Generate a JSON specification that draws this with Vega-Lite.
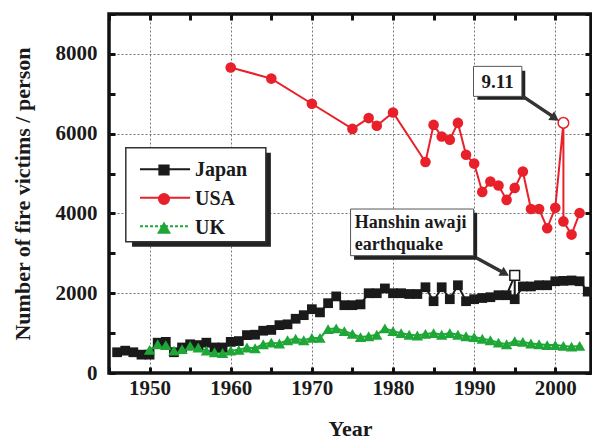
{
  "$schema": "https://vega.github.io/schema/vega-lite/v6.json",
  "width": 482,
  "height": 359,
  "autosize": {"type": "none"},
  "padding": {"left": 109, "top": 14, "right": 1, "bottom": 66},
  "background": "white",
  "config": {"view": {"stroke": "#111", "strokeWidth": 3.5}, "font": "Liberation Serif",
    "legend": {"orient": "none", "legendX": 18, "legendY": 134, "title": null, "padding": 12,
      "strokeColor": "transparent", "fillColor": "transparent",
      "labelFont": "Liberation Serif", "labelFontWeight": "bold", "labelFontSize": 20, "labelColor": "#1a1a1a",
      "symbolSize": 100, "symbolOffset": 15, "labelOffset": 21, "rowPadding": 9, "symbolOpacity": 1}},
  "data": {"values": [
    {"series":"Japan","year":1946,"victims":520},{"series":"Japan","year":1947,"victims":560},{"series":"Japan","year":1948,"victims":520},{"series":"Japan","year":1949,"victims":460},{"series":"Japan","year":1950,"victims":460},
    {"series":"Japan","year":1951,"victims":760},{"series":"Japan","year":1952,"victims":780},{"series":"Japan","year":1953,"victims":520},{"series":"Japan","year":1954,"victims":640},{"series":"Japan","year":1955,"victims":720},
    {"series":"Japan","year":1956,"victims":700},{"series":"Japan","year":1957,"victims":760},{"series":"Japan","year":1958,"victims":640},{"series":"Japan","year":1959,"victims":640},{"series":"Japan","year":1960,"victims":780},
    {"series":"Japan","year":1961,"victims":800},{"series":"Japan","year":1962,"victims":950},{"series":"Japan","year":1963,"victims":960},{"series":"Japan","year":1964,"victims":1060},{"series":"Japan","year":1965,"victims":1080},
    {"series":"Japan","year":1966,"victims":1200},{"series":"Japan","year":1967,"victims":1220},{"series":"Japan","year":1968,"victims":1360},{"series":"Japan","year":1969,"victims":1450},{"series":"Japan","year":1970,"victims":1600},
    {"series":"Japan","year":1971,"victims":1520},{"series":"Japan","year":1972,"victims":1750},{"series":"Japan","year":1973,"victims":1920},{"series":"Japan","year":1974,"victims":1700},{"series":"Japan","year":1975,"victims":1700},
    {"series":"Japan","year":1976,"victims":1720},{"series":"Japan","year":1977,"victims":2000},{"series":"Japan","year":1978,"victims":2000},{"series":"Japan","year":1979,"victims":2120},{"series":"Japan","year":1980,"victims":2000},
    {"series":"Japan","year":1981,"victims":2000},{"series":"Japan","year":1982,"victims":1980},{"series":"Japan","year":1983,"victims":1980},{"series":"Japan","year":1984,"victims":2150},{"series":"Japan","year":1985,"victims":1800},
    {"series":"Japan","year":1986,"victims":2150},{"series":"Japan","year":1987,"victims":1850},{"series":"Japan","year":1988,"victims":2200},{"series":"Japan","year":1989,"victims":1800},{"series":"Japan","year":1990,"victims":1850},
    {"series":"Japan","year":1991,"victims":1880},{"series":"Japan","year":1992,"victims":1900},{"series":"Japan","year":1993,"victims":1950},{"series":"Japan","year":1994,"victims":1950},
    {"series":"Japan","year":1995,"victims":2450,"note":"Hanshin awaji earthquake"},{"series":"Japan","year":1995,"victims":1850},
    {"series":"Japan","year":1996,"victims":2170},{"series":"Japan","year":1997,"victims":2170},{"series":"Japan","year":1998,"victims":2200},{"series":"Japan","year":1999,"victims":2200},{"series":"Japan","year":2000,"victims":2300},
    {"series":"Japan","year":2001,"victims":2310},{"series":"Japan","year":2002,"victims":2320},{"series":"Japan","year":2003,"victims":2300},{"series":"Japan","year":2004,"victims":2040},
    {"series":"USA","year":1960,"victims":7660},{"series":"USA","year":1965,"victims":7380},{"series":"USA","year":1970,"victims":6750},{"series":"USA","year":1975,"victims":6120},{"series":"USA","year":1977,"victims":6390},
    {"series":"USA","year":1978,"victims":6200},{"series":"USA","year":1980,"victims":6530},{"series":"USA","year":1984,"victims":5290},{"series":"USA","year":1985,"victims":6220},{"series":"USA","year":1986,"victims":5930},
    {"series":"USA","year":1987,"victims":5850},{"series":"USA","year":1988,"victims":6270},{"series":"USA","year":1989,"victims":5470},{"series":"USA","year":1990,"victims":5250},{"series":"USA","year":1991,"victims":4540},
    {"series":"USA","year":1992,"victims":4800},{"series":"USA","year":1993,"victims":4700},{"series":"USA","year":1994,"victims":4340},{"series":"USA","year":1995,"victims":4640},{"series":"USA","year":1996,"victims":5050},
    {"series":"USA","year":1997,"victims":4110},{"series":"USA","year":1998,"victims":4110},{"series":"USA","year":1999,"victims":3630},{"series":"USA","year":2000,"victims":4140},
    {"series":"USA","year":2001,"victims":6270,"note":"9.11"},{"series":"USA","year":2001,"victims":3800},{"series":"USA","year":2002,"victims":3470},{"series":"USA","year":2003,"victims":4010},
    {"series":"UK","year":1950,"victims":580},{"series":"UK","year":1951,"victims":720},{"series":"UK","year":1952,"victims":700},{"series":"UK","year":1953,"victims":560},{"series":"UK","year":1954,"victims":600},
    {"series":"UK","year":1955,"victims":680},{"series":"UK","year":1956,"victims":640},{"series":"UK","year":1957,"victims":560},{"series":"UK","year":1958,"victims":520},{"series":"UK","year":1959,"victims":500},
    {"series":"UK","year":1960,"victims":560},{"series":"UK","year":1961,"victims":580},{"series":"UK","year":1962,"victims":640},{"series":"UK","year":1963,"victims":620},{"series":"UK","year":1964,"victims":720},
    {"series":"UK","year":1965,"victims":760},{"series":"UK","year":1966,"victims":740},{"series":"UK","year":1967,"victims":820},{"series":"UK","year":1968,"victims":860},{"series":"UK","year":1969,"victims":820},
    {"series":"UK","year":1970,"victims":880},{"series":"UK","year":1971,"victims":880},{"series":"UK","year":1972,"victims":1100},{"series":"UK","year":1973,"victims":1120},{"series":"UK","year":1974,"victims":1050},
    {"series":"UK","year":1975,"victims":980},{"series":"UK","year":1976,"victims":900},{"series":"UK","year":1977,"victims":920},{"series":"UK","year":1978,"victims":960},{"series":"UK","year":1979,"victims":1120},
    {"series":"UK","year":1980,"victims":1050},{"series":"UK","year":1981,"victims":1000},{"series":"UK","year":1982,"victims":960},{"series":"UK","year":1983,"victims":940},{"series":"UK","year":1984,"victims":980},
    {"series":"UK","year":1985,"victims":1000},{"series":"UK","year":1986,"victims":960},{"series":"UK","year":1987,"victims":1000},{"series":"UK","year":1988,"victims":960},{"series":"UK","year":1989,"victims":920},
    {"series":"UK","year":1990,"victims":900},{"series":"UK","year":1991,"victims":860},{"series":"UK","year":1992,"victims":820},{"series":"UK","year":1993,"victims":760},{"series":"UK","year":1994,"victims":720},
    {"series":"UK","year":1995,"victims":800},{"series":"UK","year":1996,"victims":780},{"series":"UK","year":1997,"victims":740},{"series":"UK","year":1998,"victims":720},{"series":"UK","year":1999,"victims":700},
    {"series":"UK","year":2000,"victims":700},{"series":"UK","year":2001,"victims":680},{"series":"UK","year":2002,"victims":660},{"series":"UK","year":2003,"victims":680}
  ]},
  "resolve": {"axis": {"x": "independent", "y": "independent"}},
  "layer": [
    {
      "mark": {"type": "line", "strokeWidth": 2},
      "encoding": {
        "x": {"field": "year", "type": "quantitative",
          "scale": {"domain": [1945, 2004.4], "nice": false, "zero": false},
          "axis": {"orient": "bottom", "values": [1945,1950,1955,1960,1965,1970,1975,1980,1985,1990,1995,2000], "format": "d",
            "labelExpr": "datum.value % 10 === 0 ? datum.label : ''",
            "grid": true, "gridDash": [2,2], "gridColor": "#777", "gridWidth": 1,
            "gridOpacity": {"condition": {"test": "datum.value % 10 === 0", "value": 1}, "value": 0},
            "domain": false, "tickSize": -6, "tickWidth": 3, "tickColor": "#111",
            "labelFont": "Liberation Serif", "labelFontWeight": "bold", "labelFontSize": 21, "labelColor": "#1a1a1a", "labelPadding": 10,
            "title": "Year", "titleFont": "Liberation Serif", "titleFontWeight": "bold", "titleFontSize": 22, "titleColor": "#1a1a1a", "titlePadding": 20}},
        "y": {"field": "victims", "type": "quantitative",
          "scale": {"domain": [0, 9000], "nice": false},
          "axis": {"orient": "left", "values": [0,1000,2000,3000,4000,5000,6000,7000,8000,9000], "format": "d",
            "labelExpr": "datum.value % 2000 === 0 ? datum.label : ''",
            "grid": true, "gridDash": [2,2], "gridColor": "#777", "gridWidth": 1,
            "gridOpacity": {"condition": {"test": "datum.value % 2000 === 0 && datum.value > 0", "value": 1}, "value": 0},
            "domain": false, "tickSize": -6, "tickWidth": 3, "tickColor": "#111",
            "labelFont": "Liberation Serif", "labelFontWeight": "bold", "labelFontSize": 21, "labelColor": "#1a1a1a", "labelPadding": 18,
            "title": "Number of fire victims / person", "titleFont": "Liberation Serif", "titleFontWeight": "bold", "titleFontSize": 22, "titleColor": "#1a1a1a", "titlePadding": 21}},
        "color": {"field": "series", "type": "nominal",
          "scale": {"domain": ["Japan","USA","UK"], "range": ["#1a1a1a","#e8202a","#1ea637"]},
          "legend": {"zindex": 5}}
      }
    },
    {
      "data": {"values": [{"box": "legend shadow"}]},
      "mark": {"type": "rect", "fill": "#222"},
      "encoding": {
        "x": {"datum": 1947.84, "type": "quantitative", "axis": null},
        "x2": {"datum": 1964.95},
        "y": {"datum": 5523, "type": "quantitative", "axis": null},
        "y2": {"datum": 3166}
      }
    },
    {
      "data": {"values": [{"box": "legend"}]},
      "mark": {"type": "rect", "fill": "white", "stroke": "#333", "strokeWidth": 1.5},
      "encoding": {
        "x": {"datum": 1947.07, "type": "quantitative", "axis": null},
        "x2": {"datum": 1964.33},
        "y": {"datum": 5648, "type": "quantitative", "axis": null},
        "y2": {"datum": 3291}
      }
    },
    {
      "data": {"values": [{"series": "Japan"}]},
      "mark": {"type": "rule", "strokeWidth": 2, "color": "#1a1a1a"},
      "encoding": {
        "x": {"datum": 1948.82, "type": "quantitative", "axis": null},
        "x2": {"datum": 1954.99},
        "y": {"datum": 5110, "type": "quantitative", "axis": null}
      }
    },
    {
      "data": {"values": [{"series": "USA"}]},
      "mark": {"type": "rule", "strokeWidth": 2, "color": "#e8202a"},
      "encoding": {
        "x": {"datum": 1948.82, "type": "quantitative", "axis": null},
        "x2": {"datum": 1954.99},
        "y": {"datum": 4395, "type": "quantitative", "axis": null}
      }
    },
    {
      "data": {"values": [{"series": "UK"}]},
      "mark": {"type": "rule", "strokeWidth": 2, "color": "#1ea637", "strokeDash": [3, 2]},
      "encoding": {
        "x": {"datum": 1948.82, "type": "quantitative", "axis": null},
        "x2": {"datum": 1954.99},
        "y": {"datum": 3680, "type": "quantitative", "axis": null}
      }
    },
    {
      "mark": {"type": "point", "filled": true, "opacity": 1},
      "encoding": {
        "x": {"field": "year", "type": "quantitative",
          "axis": {"orient": "top", "values": [1945,1950,1955,1960,1965,1970,1975,1980,1985,1990,1995,2000], "labels": false, "grid": false, "domain": false, "tickSize": -6, "tickWidth": 3, "tickColor": "#111", "title": null}},
        "y": {"field": "victims", "type": "quantitative",
          "axis": {"orient": "right", "values": [0,1000,2000,3000,4000,5000,6000,7000,8000,9000], "labels": false, "grid": false, "domain": false, "tickSize": -6, "tickWidth": 3, "tickColor": "#111", "title": null}},
        "color": {"field": "series", "type": "nominal", "legend": {"zindex": 5}},
        "shape": {"field": "series", "type": "nominal", "scale": {"domain": ["Japan","USA","UK"], "range": ["square","circle","triangle-up"]}, "legend": null},
        "size": {"field": "series", "type": "nominal", "scale": {"domain": ["Japan","USA","UK"], "range": [95,130,95]}, "legend": null}
      }
    },
    {
      "transform": [{"filter": "isValid(datum.note)"}],
      "mark": {"type": "point", "filled": false, "fill": "white", "strokeWidth": 1.5, "opacity": 1},
      "encoding": {
        "x": {"field": "year", "type": "quantitative", "axis": null},
        "y": {"field": "victims", "type": "quantitative", "axis": null},
        "color": {"field": "series", "type": "nominal"},
        "shape": {"field": "series", "type": "nominal", "legend": null},
        "size": {"field": "series", "type": "nominal", "legend": null}
      }
    },
    {
      "data": {"values": [{"box": "9.11 shadow"}]},
      "mark": {"type": "rect", "fill": "#222"},
      "encoding": {
        "x": {"datum": 1990.4, "type": "quantitative", "axis": null},
        "x2": {"datum": 1996.3},
        "y": {"datum": 7580, "type": "quantitative", "axis": null},
        "y2": {"datum": 6852}
      }
    },
    {
      "data": {"values": [{"box": "9.11"}]},
      "mark": {"type": "rect", "fill": "white", "stroke": "#555", "strokeWidth": 1},
      "encoding": {
        "x": {"datum": 1989.92, "type": "quantitative", "axis": null},
        "x2": {"datum": 1995.88},
        "y": {"datum": 7687, "type": "quantitative", "axis": null},
        "y2": {"datum": 6935}
      }
    },
    {
      "data": {"values": [{"box": "Hanshin shadow"}]},
      "mark": {"type": "rect", "fill": "#222"},
      "encoding": {
        "x": {"datum": 1975.2, "type": "quantitative", "axis": null},
        "x2": {"datum": 1990.37},
        "y": {"datum": 4018, "type": "quantitative", "axis": null},
        "y2": {"datum": 2840}
      }
    },
    {
      "data": {"values": [{"box": "Hanshin"}]},
      "mark": {"type": "rect", "fill": "white", "stroke": "#555", "strokeWidth": 1},
      "encoding": {
        "x": {"datum": 1974.77, "type": "quantitative", "axis": null},
        "x2": {"datum": 1989.92},
        "y": {"datum": 4111, "type": "quantitative", "axis": null},
        "y2": {"datum": 2941}
      }
    },
    {
      "data": {"values": [{"label": "9.11"}]},
      "mark": {"type": "text", "font": "Liberation Serif", "fontWeight": "bold", "fontSize": 19, "color": "#1a1a1a", "align": "center", "baseline": "middle"},
      "encoding": {
        "x": {"datum": 1992.9, "type": "quantitative", "axis": null},
        "y": {"datum": 7303, "type": "quantitative", "axis": null},
        "text": {"field": "label"}
      }
    },
    {
      "data": {"values": [{"label": "Hanshin awaji\nearthquake"}]},
      "mark": {"type": "text", "font": "Liberation Serif", "fontWeight": "bold", "fontSize": 18, "color": "#1a1a1a", "align": "left", "baseline": "middle", "lineBreak": "\n", "lineHeight": 22},
      "encoding": {
        "x": {"datum": 1975.3, "type": "quantitative", "axis": null},
        "y": {"datum": 3768, "type": "quantitative", "axis": null},
        "text": {"field": "label"}
      }
    },
    {
      "data": {"values": [{"arrow": "9.11"}]},
      "mark": {"type": "rule", "strokeWidth": 3.5, "color": "#333"},
      "encoding": {
        "x": {"datum": 1996.0, "type": "quantitative", "axis": null},
        "x2": {"datum": 2000.0},
        "y": {"datum": 6935, "type": "quantitative", "axis": null},
        "y2": {"datum": 6390}
      }
    },
    {
      "data": {"values": [{"arrow": "9.11"}]},
      "mark": {"type": "point", "shape": "triangle-right", "filled": true, "color": "#333", "size": 110, "angle": 34, "opacity": 1},
      "encoding": {
        "x": {"datum": 1999.96, "type": "quantitative", "axis": null},
        "y": {"datum": 6390, "type": "quantitative", "axis": null}
      }
    },
    {
      "data": {"values": [{"arrow": "Hanshin"}]},
      "mark": {"type": "rule", "strokeWidth": 3.5, "color": "#333"},
      "encoding": {
        "x": {"datum": 1990.3, "type": "quantitative", "axis": null},
        "x2": {"datum": 1993.8},
        "y": {"datum": 2883, "type": "quantitative", "axis": null},
        "y2": {"datum": 2495}
      }
    },
    {
      "data": {"values": [{"arrow": "Hanshin"}]},
      "mark": {"type": "point", "shape": "triangle-right", "filled": true, "color": "#333", "size": 110, "angle": 29, "opacity": 1},
      "encoding": {
        "x": {"datum": 1993.8, "type": "quantitative", "axis": null},
        "y": {"datum": 2495, "type": "quantitative", "axis": null}
      }
    }
  ]
}
